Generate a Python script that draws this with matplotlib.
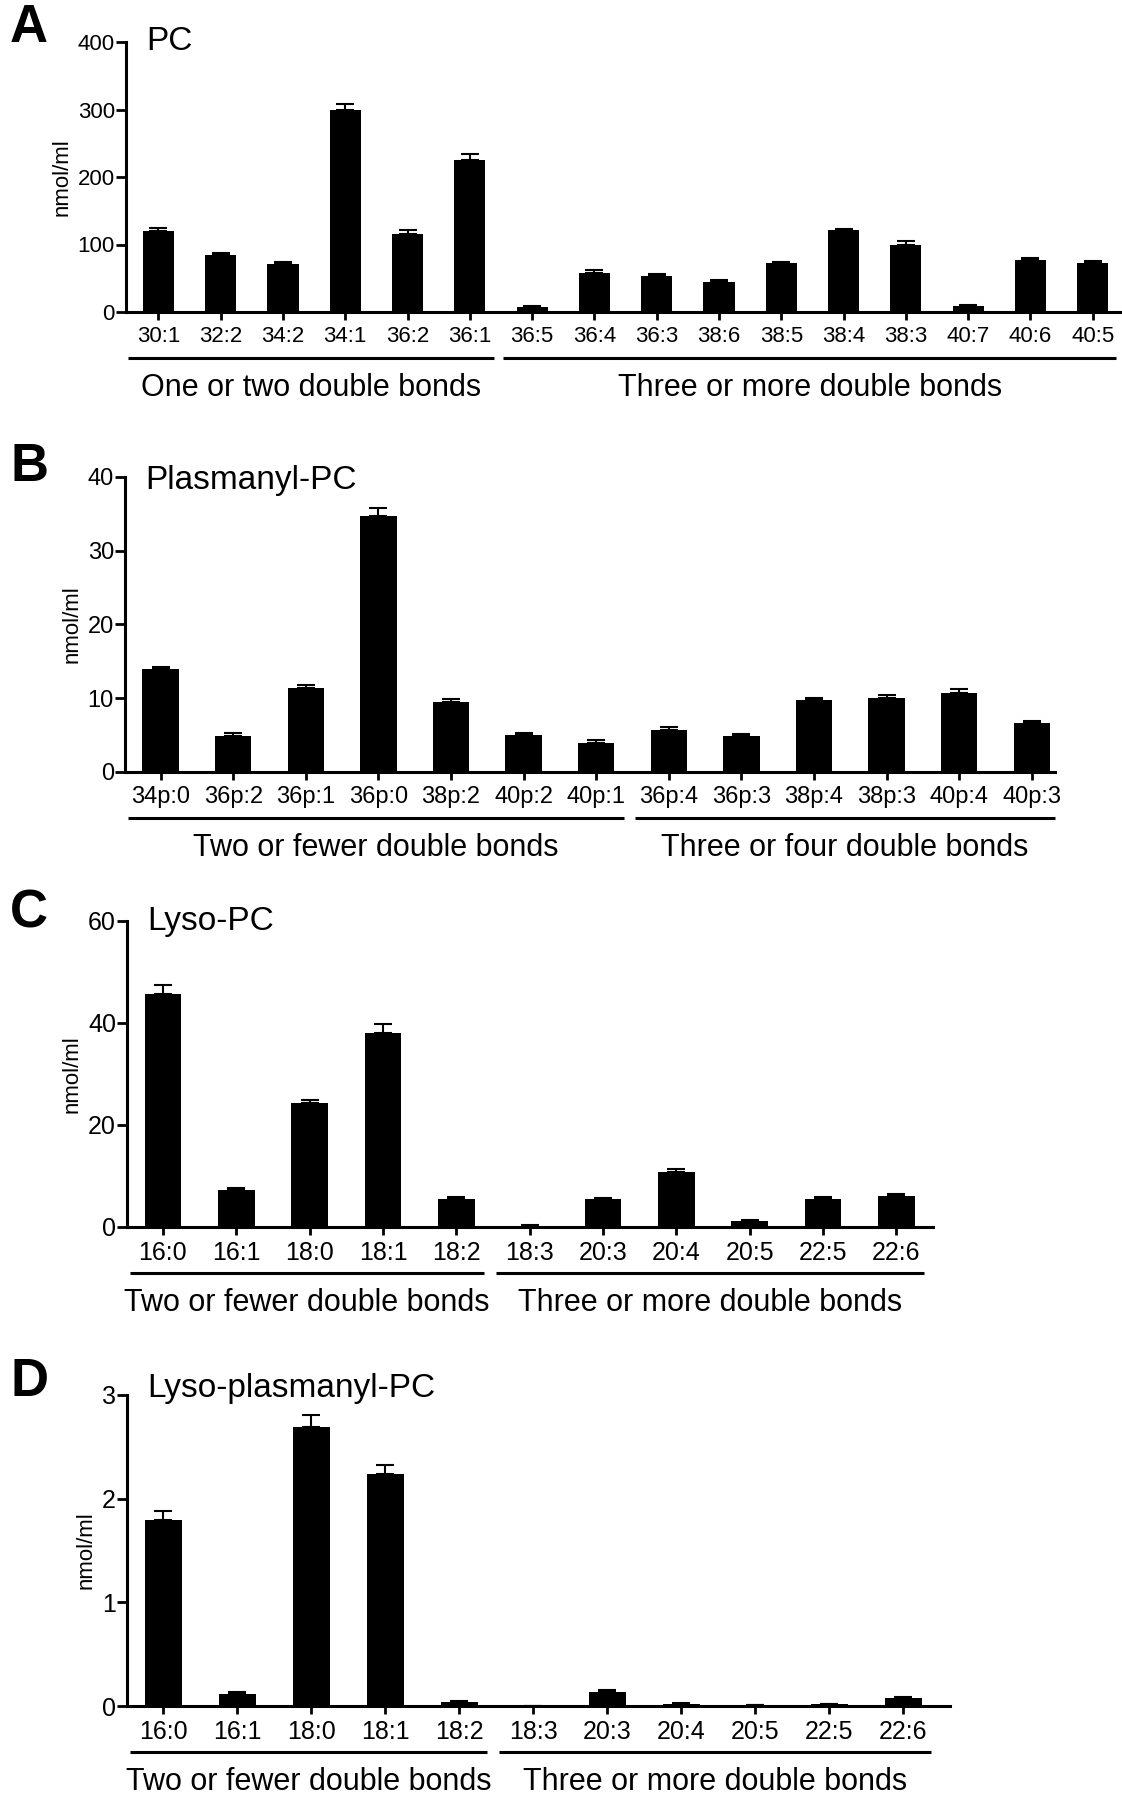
import matplotlib
matplotlib.use("Agg")
import matplotlib.pyplot as plt
import matplotlib.transforms as mtransforms
import numpy as np

plt.rcParams['font.family'] = ['Liberation Sans', 'DejaVu Sans']

# panel A - PC
pc_labels = ["30:1", "32:2", "34:2", "34:1", "36:2", "36:1", "36:5", "36:4",
             "36:3", "38:6", "38:5", "38:4", "38:3", "40:7", "40:6", "40:5"]
pc_mean = [120, 85, 71, 300, 116, 225, 8, 58, 54, 44, 72, 121, 100, 9.5, 77, 73]
pc_err = [4, 2, 2.5, 8, 6, 9, 1.5, 4, 3, 3, 1.5, 2.5, 4.5, 1.5, 3, 3]
pc_groups = [("One or two double bonds", 0, 5), ("Three or more double bonds", 6, 15)]

# panel B - Plasmanyl-PC
ppc_labels = ["34p:0", "36p:2", "36p:1", "36p:0", "38p:2", "40p:2", "40p:1",
              "36p:4", "36p:3", "38p:4", "38p:3", "40p:4", "40p:3"]
ppc_mean = [13.9, 4.9, 11.4, 34.7, 9.5, 5.0, 4.0, 5.7, 4.9, 9.7, 10.0, 10.7, 6.6]
ppc_err = [0.4, 0.35, 0.4, 1.1, 0.4, 0.25, 0.3, 0.4, 0.25, 0.35, 0.4, 0.5, 0.3]
ppc_groups = [("Two or fewer double bonds", 0, 6), ("Three or four double bonds", 7, 12)]

# panel C - Lyso-PC
lpc_labels = ["16:0", "16:1", "18:0", "18:1", "18:2", "18:3", "20:3", "20:4", "20:5", "22:5", "22:6"]
lpc_mean = [45.7, 7.3, 24.3, 38.0, 5.5, 0.26, 5.4, 10.7, 1.2, 5.5, 6.1]
lpc_err = [1.8, 0.4, 0.7, 1.8, 0.4, 0.05, 0.3, 0.7, 0.15, 0.4, 0.3]
lpc_groups = [("Two or fewer double bonds", 0, 4), ("Three or more double bonds", 5, 10)]

# panel D - Lyso-plasmanyl-PC
lppc_labels = lpc_labels
lppc_mean = [1.79, 0.115, 2.69, 2.24, 0.038, 0.003, 0.131, 0.019, 0.005, 0.016, 0.074]
lppc_err = [0.09, 0.019, 0.12, 0.08, 0.01, 0.001, 0.023, 0.007, 0.002, 0.006, 0.009]
lppc_groups = lpc_groups

W, H = 1122, 1798
fig = plt.figure(figsize=(W / 100, H / 100), dpi=100)


def rect(x0, y_top, x1, y_bot):
    return [x0 / W, 1 - y_bot / H, (x1 - x0) / W, (y_bot - y_top) / H]


def panel(r, labels, mean, err, groups, ymax, yticks, xlim, letter, letter_y, title, title_y,
          ticksize):
    ax = fig.add_axes(rect(*r))
    x = np.arange(len(labels))
    ax.bar(x, mean, width=0.5, color="black", zorder=2)
    ax.errorbar(x, mean, yerr=[np.zeros(len(err)), err], fmt="none", ecolor="black",
                elinewidth=1.5, capsize=6.2, capthick=1.5, zorder=1)
    ax.set_xlim(*xlim)
    ax.set_ylim(0, ymax)
    ax.set_yticks(yticks)
    ax.set_xticks(x)
    ax.set_xticklabels(labels)
    ax.spines[["top", "right"]].set_visible(False)
    for s in ["left", "bottom"]:
        ax.spines[s].set_linewidth(2.2)
    ax.tick_params(direction="out", length=6, width=2, pad=4, labelsize=ticksize)
    ax.tick_params(axis="y", pad=1, length=7)
    ax.set_ylabel("nmol/ml", fontsize=16, labelpad=4)

    trans = mtransforms.blended_transform_factory(ax.transData, ax.transAxes)
    axh = r[3] - r[1]
    for name, i0, i1 in groups:
        lo = i0 - 0.46 if i0 > 0 else xlim[0] + 0.04
        hi = min(i1 + 0.38, xlim[1])
        ax.plot([lo, hi], [-46 / axh] * 2, color="black", lw=2.2, transform=trans,
                clip_on=False, solid_capstyle="butt")
        ax.text((lo + hi) / 2, -76 / axh, name, transform=trans, ha="center", va="center",
                fontsize=22)
    fig.text(10 / W, 1 - letter_y / H, letter, fontsize=38, fontweight="bold",
             ha="left", va="center")
    fig.text(r[0] / W + 20 / W, 1 - title_y / H, title, fontsize=24,
             ha="left", va="center")
    return ax


panel((126, 42, 1122, 312), pc_labels, pc_mean, pc_err, pc_groups, 400,
      [0, 100, 200, 300, 400], (-0.52, 15.47), "A", 28, "PC", 42, 16)
panel((125, 477, 1055, 772), ppc_labels, ppc_mean, ppc_err, ppc_groups, 40,
      [0, 10, 20, 30, 40], (-0.49, 12.32), "B", 467, "Plasmanyl-PC", 480, 17)
panel((127, 921, 933, 1227), lpc_labels, lpc_mean, lpc_err, lpc_groups, 60,
      [0, 20, 40, 60], (-0.49, 10.5), "C", 914, "Lyso-PC", 922, 18)
panel((127, 1395, 950, 1706), lppc_labels, lppc_mean, lppc_err, lppc_groups, 3,
      [0, 1, 2, 3], (-0.49, 10.63), "D", 1382, "Lyso-plasmanyl-PC", 1388, 18)

fig.savefig("out.png", dpi=100)
